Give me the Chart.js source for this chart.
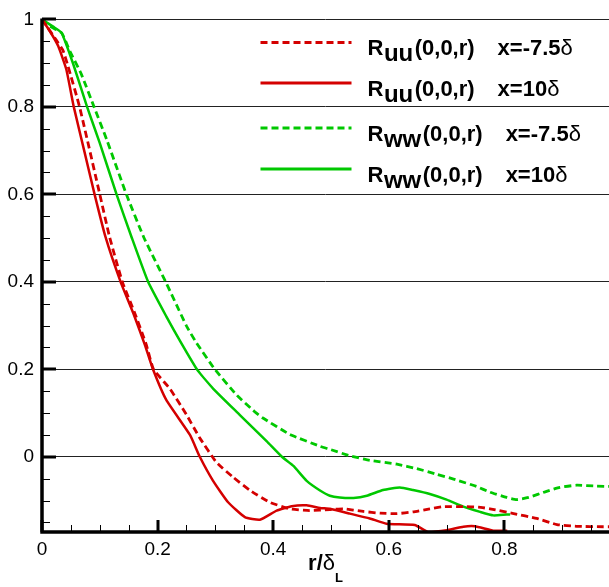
<!DOCTYPE html>
<html>
<head>
<meta charset="utf-8">
<script src="https://cdn.jsdelivr.net/npm/chart.js@4"></script>
<style>
  body { margin: 0; background: #fff; }
  canvas { display: block; }
</style>
</head>
<body>
<canvas id="myChart" width="609" height="587"></canvas>
<script>
let xTicks = [0, 0.2, 0.4, 0.6, 0.8];
let yTicks = [0, 0.2, 0.4, 0.6, 0.8, 1];

// R_uu, x=-7.5 delta (red dashed)
let ruuUpX = [0, 0.025, 0.036, 0.045, 0.065, 0.1, 0.117, 0.139, 0.16, 0.18, 0.193, 0.221, 0.25, 0.273, 0.302, 0.331, 0.36, 0.394, 0.429, 0.463, 0.498, 0.521, 0.556, 0.585, 0.614, 0.642, 0.671, 0.694, 0.729, 0.755, 0.775, 0.816, 0.856, 0.891, 0.925, 0.971, 0.985];
let ruuUpY = [1, 0.952, 0.93, 0.893, 0.8, 0.6, 0.502, 0.4, 0.33, 0.258, 0.2, 0.156, 0.096, 0.043, -0.013, -0.047, -0.077, -0.104, -0.119, -0.123, -0.121, -0.119, -0.125, -0.129, -0.13, -0.126, -0.119, -0.114, -0.114, -0.115, -0.119, -0.13, -0.141, -0.155, -0.159, -0.16, -0.16];

// R_uu, x=10 delta (red solid)
let ruuDownX = [0, 0.015, 0.028, 0.042, 0.055, 0.073, 0.091, 0.11, 0.136, 0.158, 0.178, 0.192, 0.215, 0.256, 0.273, 0.296, 0.322, 0.351, 0.377, 0.406, 0.432, 0.458, 0.481, 0.498, 0.533, 0.567, 0.596, 0.645, 0.668, 0.7, 0.729, 0.749, 0.781, 0.805];
let ruuDownY = [1, 0.97, 0.939, 0.886, 0.8, 0.7, 0.6, 0.502, 0.4, 0.328, 0.256, 0.2, 0.13, 0.05, 0, -0.055, -0.104, -0.138, -0.144, -0.123, -0.113, -0.111, -0.117, -0.119, -0.13, -0.141, -0.153, -0.156, -0.172, -0.168, -0.16, -0.159, -0.169, -0.169];

// R_ww, x=-7.5 delta (green dashed)
let rwwUpX = [0, 0.013, 0.034, 0.048, 0.068, 0.09, 0.112, 0.146, 0.176, 0.214, 0.25, 0.267, 0.299, 0.337, 0.368, 0.383, 0.429, 0.481, 0.498, 0.533, 0.567, 0.614, 0.648, 0.683, 0.712, 0.752, 0.775, 0.804, 0.821, 0.842, 0.873, 0.896, 0.925, 0.96, 0.985];
let rwwUpY = [1, 0.985, 0.969, 0.928, 0.875, 0.8, 0.725, 0.6, 0.502, 0.4, 0.299, 0.261, 0.2, 0.141, 0.103, 0.088, 0.051, 0.024, 0.017, 0.002, -0.008, -0.017, -0.027, -0.04, -0.051, -0.068, -0.081, -0.093, -0.098, -0.093, -0.079, -0.07, -0.065, -0.067, -0.068];

// R_ww, x=10 delta (green solid)
let rwwDownX = [0, 0.022, 0.034, 0.054, 0.078, 0.1, 0.129, 0.155, 0.1836, 0.215, 0.24, 0.268, 0.296, 0.342, 0.389, 0.415, 0.435, 0.458, 0.481, 0.498, 0.515, 0.539, 0.562, 0.59, 0.619, 0.642, 0.671, 0.7, 0.729, 0.758, 0.781, 0.804, 0.81];
let rwwDownY = [1, 0.981, 0.969, 0.898, 0.8, 0.717, 0.6, 0.502, 0.4, 0.321, 0.262, 0.2, 0.156, 0.096, 0.035, 0, -0.021, -0.055, -0.077, -0.089, -0.093, -0.094, -0.089, -0.076, -0.07, -0.076, -0.085, -0.098, -0.114, -0.126, -0.134, -0.132, -0.132];

let legendSubs = ["uu", "uu", "ww", "ww"];
let legendPos = ["x=-7.5δ", "x=10δ", "x=-7.5δ", "x=10δ"];

const RED = "#d40000";
const GREEN = "#00c800";
const FONT = '"Liberation Sans", Arial, Helvetica, sans-serif';

function pts(xs, ys) {
  return xs.map((x, i) => ({ x: x, y: ys[i] }));
}

function lineSet(xs, ys, color, dashed) {
  return {
    data: pts(xs, ys),
    borderColor: color,
    backgroundColor: color,
    borderWidth: dashed ? 2.8 : 2.5,
    borderDash: dashed ? [7, 4] : [],
    showLine: true,
    pointRadius: 0,
    tension: 0.15,
    fill: false,
    clip: 0,
  };
}

// axis lines plus inward major/minor tick marks
const axisFrame = {
  id: "axisFrame",
  afterDatasetsDraw(chart) {
    const { ctx, chartArea: a, scales } = chart;
    const xs = scales.x, ys = scales.y;
    ctx.save();
    ctx.strokeStyle = "#000";
    ctx.lineCap = "butt";
    // minor ticks
    ctx.lineWidth = 1;
    ctx.beginPath();
    for (let i = -3; i <= 20; i++) {
      let v = i * 0.05;
      if (i % 4 === 0) continue;
      let py = Math.round(ys.getPixelForValue(v)) + 0.5;
      if (py < a.top || py > a.bottom) continue;
      ctx.moveTo(a.left, py);
      ctx.lineTo(a.left + 8, py);
    }
    for (let i = 1; i <= 19; i++) {
      if (i % 4 === 0) continue;
      let px = Math.round(xs.getPixelForValue(i * 0.05)) + 0.5;
      if (px > a.right) continue;
      ctx.moveTo(px, a.bottom);
      ctx.lineTo(px, a.bottom - 7);
    }
    ctx.stroke();
    // major ticks
    ctx.lineWidth = 3;
    ctx.beginPath();
    yTicks.forEach(v => {
      let py = Math.round(ys.getPixelForValue(v));
      ctx.moveTo(a.left, py);
      ctx.lineTo(a.left + 14, py);
    });
    xTicks.forEach(v => {
      let px = Math.round(xs.getPixelForValue(v));
      ctx.moveTo(px, a.bottom);
      ctx.lineTo(px, a.bottom - 12);
    });
    ctx.stroke();
    // axis lines
    ctx.lineWidth = 3.5;
    ctx.beginPath();
    ctx.moveTo(a.left, a.top - 1);
    ctx.lineTo(a.left, a.bottom);
    ctx.lineTo(a.right, a.bottom);
    ctx.stroke();
    ctx.restore();
  },
};

// legend with subscripts and the x-axis title r/δL
const textLayer = {
  id: "textLayer",
  afterDraw(chart) {
    const { ctx, chartArea: a } = chart;
    const rowOff = [23, 63.7, 108.7, 149.7];
    ctx.save();
    ctx.fillStyle = "#000";
    ctx.textBaseline = "alphabetic";
    ctx.textAlign = "left";
    chart.data.datasets.forEach((ds, i) => {
      let y = a.top + rowOff[i];
      let x0 = a.left + 218.5;
      ctx.save();
      ctx.strokeStyle = ds.borderColor;
      ctx.lineWidth = 3;
      ctx.setLineDash(ds.borderDash);
      ctx.beginPath();
      ctx.moveTo(x0, y);
      ctx.lineTo(x0 + 91, y);
      ctx.stroke();
      ctx.restore();

      let x = x0 + 107;
      let base = y + 13;
      ctx.font = "bold 22px " + FONT;
      ctx.fillText("R", x, base);
      x += ctx.measureText("R").width + 0.5;
      ctx.font = "bold 24px " + FONT;
      ctx.fillText(legendSubs[i], x, base + 6);
      x += ctx.measureText(legendSubs[i]).width + 1.5;
      ctx.font = "bold 22px " + FONT;
      ctx.fillText("(0,0,r)", x, base);
      x += ctx.measureText("(0,0,r)").width + 23;
      let s = legendPos[i];
      let head = s.slice(0, -1), tail = s.slice(-1);
      ctx.fillText(head, x, base);
      x += ctx.measureText(head).width;
      ctx.font = "22px " + FONT;
      ctx.fillText(tail, x, base);
    });

    // x title
    ctx.font = "bold 22px " + FONT;
    let w1 = ctx.measureText("r/").width;
    ctx.font = "22px " + FONT;
    let w2 = ctx.measureText("δ").width;
    ctx.font = "bold 13px " + FONT;
    let w3 = ctx.measureText("L").width;
    let cx = (a.left + a.right) / 2;
    let tx = cx - (w1 + w2 + w3) / 2;
    let tb = a.bottom + 38;
    ctx.font = "bold 22px " + FONT;
    ctx.fillText("r/", tx, tb);
    ctx.font = "22px " + FONT;
    ctx.fillText("δ", tx + w1, tb);
    ctx.font = "bold 13px " + FONT;
    ctx.fillText("L", tx + w1 + w2, tb + 12);
    ctx.restore();
  },
};

let myChart = document.getElementById("myChart").getContext("2d");

let corrChart = new Chart(myChart, {
  type: "scatter",
  data: {
    datasets: [
      lineSet(ruuUpX, ruuUpY, RED, true),
      lineSet(ruuDownX, ruuDownY, RED, false),
      lineSet(rwwUpX, rwwUpY, GREEN, true),
      lineSet(rwwDownX, rwwDownY, GREEN, false),
    ],
  },
  options: {
    responsive: false,
    animation: false,
    layout: {
      padding: { top: 13, right: 0, left: 0, bottom: 0 },
    },
    plugins: {
      legend: { display: false },
      tooltip: { enabled: false },
    },
    scales: {
      x: {
        type: "linear",
        min: 0,
        max: 0.981,
        afterBuildTicks: s => { s.ticks = xTicks.map(v => ({ value: v })); },
        afterFit: s => { s.height = 55; },
        border: { display: false },
        grid: { display: false, drawTicks: false },
        ticks: {
          color: "#000",
          font: { family: FONT, size: 19 },
          padding: 6,
          maxRotation: 0,
          autoSkip: false,
          callback: v => String(+v.toFixed(1)),
        },
      },
      y: {
        type: "linear",
        min: -0.172,
        max: 1,
        afterBuildTicks: s => { s.ticks = yTicks.map(v => ({ value: v })); },
        afterFit: s => { s.width = 42; },
        border: { display: false },
        grid: { color: "#222", lineWidth: 1, drawTicks: false },
        ticks: {
          color: "#000",
          font: { family: FONT, size: 19 },
          padding: 8,
          autoSkip: false,
          callback: v => String(+v.toFixed(1)),
        },
      },
    },
  },
  plugins: [axisFrame, textLayer],
});
</script>
</body>
</html>
